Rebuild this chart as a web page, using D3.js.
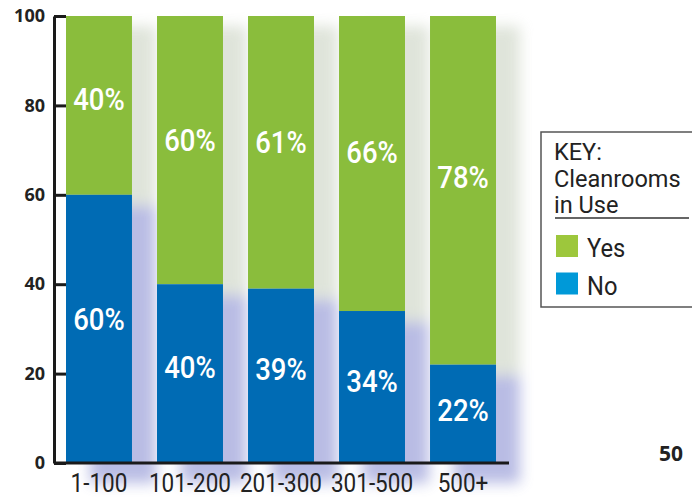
<!DOCTYPE html>
<meta charset="utf-8">
<style>
    body { margin: 0; background: #fff; }
    .tick line { stroke: #1a1a1a; stroke-width: 3px; }
    .domain { stroke: #1a1a1a; stroke-width: 3px; }
    .tick text { font-family: "Open Sans", "DejaVu Sans", sans-serif; font-weight: bold; font-size: 18px; fill: #222; }
</style>
<script src="https://cdn.jsdelivr.net/npm/d3@7"></script>
<div id="svg-holder"></div>
<script>
    // data
    var categories = ["1-100", "101-200", "201-300", "301-500", "500+"];
    var yes_values = [40, 60, 61, 66, 78];
    var no_values = [60, 40, 39, 34, 22];
    var y_ticks = [0, 20, 40, 60, 80, 100];
    var series_names = ["Yes", "No"];

    var width = 692, height = 497;
    var green = "#8abd3c", blue = "#006bb4";

    var svg = d3.select("#svg-holder").append("svg")
        .attr("width", width).attr("height", height);
    var defs = svg.append("defs");
    defs.append("filter").attr("id", "blur")
        .attr("x", "-50%").attr("y", "-20%").attr("width", "200%").attr("height", "140%")
        .append("feGaussianBlur").attr("stdDeviation", 7);

    // condensed text helper: Roboto squeezed horizontally
    function ctext(g, px, py, str, size, opts) {
        opts = opts || {};
        return g.append("text")
            .attr("transform", "translate(" + px + "," + py + ") scale(" + (opts.sx || 0.9) + ",1)")
            .attr("font-family", "Roboto, 'Liberation Sans', sans-serif")
            .attr("font-weight", opts.weight || 400)
            .attr("font-size", size + "px")
            .attr("text-anchor", opts.anchor || "start")
            .attr("fill", opts.fill || "#222")
            .text(str);
    }

    var x = d3.scaleBand().domain(categories).range([66, 496]).paddingInner(0.275).paddingOuter(0);
    var y = d3.scaleLinear().domain([0, 100]).range([463, 16]);

    // soft shadows to the right of bars
    var shadow = svg.append("g").attr("filter", "url(#blur)").attr("opacity", 0.42);
    categories.forEach(function(c, i) {
        shadow.append("rect")
            .attr("x", x(c) + 24).attr("y", y(100) + 10)
            .attr("width", x.bandwidth()).attr("height", y(no_values[i]) - y(100))
            .attr("fill", "#b4c0a8");
        shadow.append("rect")
            .attr("x", x(c) + 24).attr("y", y(no_values[i]) + 10)
            .attr("width", x.bandwidth()).attr("height", y(0) - y(no_values[i]) + 10)
            .attr("fill", "#5a62c0");
    });

    // bars
    categories.forEach(function(c, i) {
        var top = y(no_values[i] + yes_values[i]), mid = y(no_values[i]), base = y(0);
        svg.append("rect")
            .attr("x", x(c)).attr("y", top)
            .attr("width", x.bandwidth()).attr("height", mid - top)
            .attr("fill", green);
        svg.append("rect")
            .attr("x", x(c)).attr("y", mid)
            .attr("width", x.bandwidth()).attr("height", base - mid)
            .attr("fill", blue);

        var cx = x(c) + x.bandwidth() / 2;
        var yc = (top + mid) / 2 - 0.04 * (mid - top) + 11.5;
        ctext(svg, cx, yc, yes_values[i] + "%", 32, {anchor: "middle", fill: "#fff", weight: 500, sx: 0.86});
        var yc2 = (mid + base) / 2 - 0.04 * (base - mid) + 11.5;
        ctext(svg, cx, yc2, no_values[i] + "%", 32, {anchor: "middle", fill: "#fff", weight: 500, sx: 0.86});

        ctext(svg, cx, 492, c, 25, {anchor: "middle", sx: 0.9});
    });

    // y axis
    var yAxis = d3.axisLeft(y).tickValues(y_ticks).tickSize(-12).tickSizeOuter(0).tickPadding(9);
    svg.append("g").attr("transform", "translate(54,0)").call(yAxis);

    // x axis baseline
    svg.append("line")
        .attr("x1", 54).attr("x2", 509).attr("y1", y(0)).attr("y2", y(0))
        .attr("stroke", "#1a1a1a").attr("stroke-width", 3);

    // legend
    var legend = svg.append("g");
    legend.append("rect").attr("x", 541).attr("y", 132).attr("width", 170).attr("height", 175)
        .attr("fill", "#fff").attr("stroke", "#555").attr("stroke-width", 1.5);
    ["KEY:", "Cleanrooms", "in Use"].forEach(function(t, i) {
        ctext(legend, 554, 160 + i * 26.5, t, 24, {sx: 0.98});
    });
    legend.append("line").attr("x1", 555).attr("x2", 689).attr("y1", 218).attr("y2", 218)
        .attr("stroke", "#333").attr("stroke-width", 1.5);
    var swatch_colors = ["#9dc73c", "#0099d8"];
    series_names.forEach(function(s, i) {
        legend.append("rect").attr("x", 556).attr("y", 235 + i * 37.5)
            .attr("width", 22).attr("height", 22).attr("fill", swatch_colors[i]);
        ctext(legend, 587, 257 + i * 37.5, s, 25, {sx: 0.95});
    });

    // page number
    svg.append("text").attr("x", 671).attr("y", 461).attr("text-anchor", "middle")
        .attr("font-family", "'Open Sans', sans-serif").attr("font-weight", "bold")
        .attr("font-size", "21px").attr("fill", "#222").text("50");
</script>
